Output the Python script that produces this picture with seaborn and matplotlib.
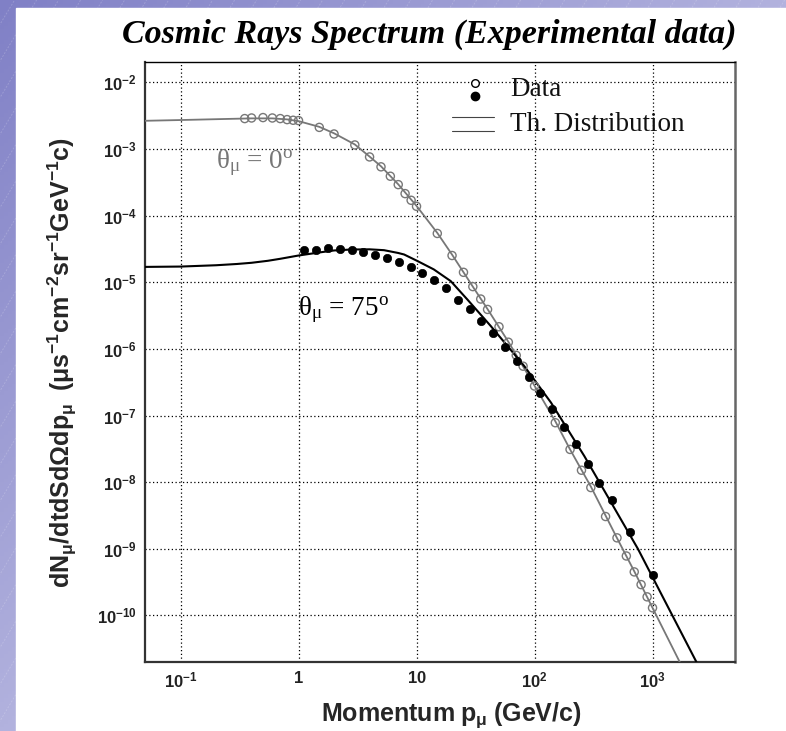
import numpy as np
import pandas as pd
import matplotlib
matplotlib.use("Agg")
import matplotlib.pyplot as plt
import matplotlib.ticker as mticker
import seaborn as sns

# --- values ---
# open circles, theta = 0 deg
p_0deg = [0.35, 0.40, 0.50, 0.60, 0.70, 0.80, 0.90, 1.0, 1.5, 2.0, 3.0, 4.0, 5.0, 6.0,
          7.0, 8.0, 9.0, 10.0, 15.0, 20.0, 25.0, 30.0, 35.0, 40.0, 50.0, 60.0, 70.0, 80.0,
          100.0, 150.0, 200.0, 250.0, 300.0, 400.0, 500.0, 600.0, 700.0, 800.0, 900.0, 1000.0]
flux_0deg = [2.86e-3, 2.92e-3, 2.96e-3, 2.92e-3, 2.86e-3, 2.76e-3, 2.70e-3, 2.67e-3, 2.11e-3,
             1.68e-3, 1.15e-3, 7.6e-4, 5.4e-4, 3.9e-4, 2.92e-4, 2.14e-4, 1.70e-4, 1.38e-4,
             5.4e-5, 2.52e-5, 1.41e-5, 8.6e-6, 5.6e-6, 3.91e-6, 2.15e-6, 1.26e-6, 8.0e-7,
             5.5e-7, 2.77e-7, 7.8e-8, 3.1e-8, 1.51e-8, 8.3e-9, 3.05e-9, 1.46e-9, 7.8e-10,
             4.5e-10, 2.9e-10, 1.9e-10, 1.3e-10]

# filled circles, theta = 75 deg
p_75deg = [1.12, 1.41, 1.78, 2.24, 2.82, 3.55, 4.47, 5.62, 7.08, 8.91, 11.2, 14.1, 17.8,
           22.4, 28.2, 35.5, 44.7, 56.2, 70.8, 89.1, 112.0, 141.0, 178.0, 224.0, 282.0,
           355.0, 455.0, 640.0, 1000.0]
flux_75deg = [3.0e-5, 3.1e-5, 3.29e-5, 3.18e-5, 3.1e-5, 2.82e-5, 2.55e-5, 2.33e-5, 2.0e-5,
              1.71e-5, 1.37e-5, 1.09e-5, 8.07e-6, 5.4e-6, 4.0e-6, 2.65e-6, 1.71e-6, 1.06e-6,
              6.5e-7, 3.78e-7, 2.2e-7, 1.24e-7, 6.7e-8, 3.7e-8, 1.9e-8, 9.8e-9, 5.4e-9,
              1.79e-9, 4.0e-10]

# theoretical curves
th_p_0deg = [0.05, 0.1, 0.2, 0.4, 0.6, 0.8, 1.0, 1.5, 2.0, 3.0, 4.0, 5.0, 7.0, 10.0, 15.0,
             20.0, 30.0, 40.0, 60.0, 100.0, 150.0, 200.0, 300.0, 500.0, 700.0, 1000.0, 1700.0]
th_flux_0deg = [2.65e-3, 2.72e-3, 2.80e-3, 2.88e-3, 2.88e-3, 2.78e-3, 2.62e-3, 2.15e-3,
                1.72e-3, 1.17e-3, 7.7e-4, 5.5e-4, 2.95e-4, 1.40e-4, 5.5e-5, 2.6e-5, 8.6e-6,
                3.95e-6, 1.28e-6, 2.8e-7, 8.2e-8, 3.1e-8, 8.6e-9, 1.45e-9, 4.6e-10, 1.3e-10,
                2e-11]

th_p_75deg = [0.05, 0.1, 0.2, 0.3, 0.4, 0.55, 0.7, 1.0, 1.5, 2.0, 2.8, 4.0, 5.3, 7.0, 7.85,
              10.2, 14.0, 19.5, 27.0, 42.6, 82.0, 138.0, 264.0, 754.0, 2355.0]
th_flux_75deg = [1.70e-5, 1.72e-5, 1.80e-5, 1.88e-5, 1.96e-5, 2.1e-5, 2.25e-5, 2.52e-5,
                 2.8e-5, 3.0e-5, 3.1e-5, 3.12e-5, 3.03e-5, 2.75e-5, 2.61e-5, 2.08e-5,
                 1.56e-5, 1.04e-5, 5.5e-6, 2.2e-6, 5.5e-7, 1.56e-7, 2.47e-8, 9.9e-10, 2e-11]

x_ticks = [0.1, 1, 10, 100, 1000]
y_ticks = [1e-2, 1e-3, 1e-4, 1e-5, 1e-6, 1e-7, 1e-8, 1e-9, 1e-10]

GRAY = "#777777"

sns.set_theme(style="white")
plt.rcParams["font.family"] = ["Liberation Sans", "DejaVu Sans"]
plt.rcParams["mathtext.fontset"] = "custom"
plt.rcParams["mathtext.rm"] = "Liberation Serif"
plt.rcParams["mathtext.it"] = "Liberation Serif:italic"
plt.rcParams["mathtext.bf"] = "Liberation Sans:bold"
plt.rcParams["mathtext.sf"] = "Liberation Sans"

W, H = 786, 731
fig = plt.figure(figsize=(W / 100, H / 100), dpi=100)

# ---------------------------------------------------------
# slide background: purple strip with faint diagonal stripes
# ---------------------------------------------------------
bg = fig.add_axes([0, 0, 1, 1], zorder=-10)
bg.set_xlim(0, W)
bg.set_ylim(H, 0)
bg.axis("off")
xx, yy = np.meshgrid(np.linspace(0, 1, 200), np.linspace(0, 1, 200))
t = np.clip(xx + yy, 0, 1)[..., None]
c0 = np.array([128, 128, 198]) / 255
c1 = np.array([178, 178, 222]) / 255
bg.imshow(c0 * (1 - t) + c1 * t, extent=(0, W, H, 0), aspect="auto", zorder=0)
for c in range(-600, W, 22):
    bg.plot([c, c + H * 0.6], [H, 0], color="white", alpha=0.18, lw=0.7,
            ls=(0, (2, 1.5)), zorder=1)
bg.add_patch(plt.Rectangle((16, 8), W - 16, H - 8, color="white", zorder=2))

# ---------------------------------------------------------
# main axes
# ---------------------------------------------------------
ax = fig.add_axes([145 / W, 1 - 662 / H, 590 / W, 599.7 / H])
ax.set(xscale="log", yscale="log")

df_th0 = pd.DataFrame({"p": th_p_0deg, "flux": th_flux_0deg})
df_th75 = pd.DataFrame({"p": th_p_75deg, "flux": th_flux_75deg})
df_0 = pd.DataFrame({"p": p_0deg, "flux": flux_0deg})
df_75 = pd.DataFrame({"p": p_75deg, "flux": flux_75deg})

sns.lineplot(data=df_th0, x="p", y="flux", ax=ax, color=GRAY, linewidth=1.3,
             estimator=None, sort=False, zorder=3)
sns.lineplot(data=df_th75, x="p", y="flux", ax=ax, color="black", linewidth=1.5,
             estimator=None, sort=False, zorder=3)
sns.scatterplot(data=df_0, x="p", y="flux", ax=ax, s=34, facecolors="none",
                edgecolor=GRAY, linewidth=1.0, zorder=4)
sns.scatterplot(data=df_75, x="p", y="flux", ax=ax, s=36, color="black",
                edgecolor="black", linewidth=0.5, zorder=4)

ax.set_xlim(0.05, 5000)
ax.set_ylim(2e-11, 2e-2)


def fmt_x(v, pos):
    if np.isclose(v, 1):
        return r"$\mathbf{1}$"
    if np.isclose(v, 10):
        return r"$\mathbf{10}$"
    return r"$\mathbf{10^{%d}}$" % int(round(np.log10(v)))


def fmt_y(v, pos):
    return r"$\mathbf{10^{%d}}$" % int(round(np.log10(v)))


ax.xaxis.set_major_locator(mticker.FixedLocator(x_ticks))
ax.yaxis.set_major_locator(mticker.FixedLocator(y_ticks))
ax.xaxis.set_major_formatter(mticker.FuncFormatter(fmt_x))
ax.yaxis.set_major_formatter(mticker.FuncFormatter(fmt_y))
ax.xaxis.set_minor_locator(mticker.LogLocator(base=10, subs=range(2, 10), numticks=100))
ax.yaxis.set_minor_locator(mticker.LogLocator(base=10, subs=range(2, 10), numticks=100))
ax.xaxis.set_minor_formatter(mticker.NullFormatter())
ax.yaxis.set_minor_formatter(mticker.NullFormatter())

ax.tick_params(which="both", direction="in", top=False, right=False, colors="#222222",
               labelsize=12)
ax.tick_params(which="major", length=8, width=1.0, pad=6)
ax.tick_params(which="minor", length=4.5, width=0.8)

ax.grid(True, which="major", linestyle=(0, (1, 2)), color="black", linewidth=0.9)
ax.set_axisbelow(True)

for side, col, lw in [("left", "#333333", 1.6), ("bottom", "#333333", 1.6),
                      ("right", "#666666", 1.8), ("top", "black", 1.0)]:
    ax.spines[side].set_color(col)
    ax.spines[side].set_linewidth(lw)

ax.set_xlabel(r"$\mathbf{Momentum\ p_{\mu}\ (GeV/c)}$", fontsize=18)
ax.set_ylabel(r"$\mathbf{dN_{\mu}/dtdSd\Omega dp_{\mu}\ \ (\mu s^{-1}cm^{-2}sr^{-1}GeV^{-1}c)}$",
              fontsize=18)
ax.xaxis.set_label_coords(0.52, -0.064)
ax.yaxis.set_label_coords(-0.112, 0.5)

# curve labels
ax.text(0.120, 0.832, r"$\mathrm{\theta_{\mu}}$ = 0$^{\mathrm{o}}$", transform=ax.transAxes,
        family="Liberation Serif", fontsize=19.5, color=GRAY, va="center", ha="left")
ax.text(0.259, 0.587, r"$\mathrm{\theta_{\mu}}$ = 75$^{\mathrm{o}}$", transform=ax.transAxes,
        family="Liberation Serif", fontsize=19.5, color="black", va="center", ha="left")

# legend drawn by hand (ROOT style, no frame)
ax.plot([0.559], [0.965], "o", transform=ax.transAxes, ms=5.5, mfc="white", mec="black",
        mew=1.0, clip_on=False, zorder=6)
ax.plot([0.559], [0.943], "o", transform=ax.transAxes, ms=6, mfc="black", mec="black",
        clip_on=False, zorder=6)
ax.plot([0.520, 0.592], [0.908, 0.908], transform=ax.transAxes, color="#444444", lw=0.8,
        zorder=6)
ax.plot([0.520, 0.592], [0.886, 0.886], transform=ax.transAxes, color="#444444", lw=0.8,
        zorder=6)
ax.text(0.619, 0.954, "Data", transform=ax.transAxes, family="Liberation Serif",
        fontsize=19.5, va="center", ha="left", color="#111111")
ax.text(0.619, 0.897, "Th. Distribution", transform=ax.transAxes, family="Liberation Serif",
        fontsize=19.5, va="center", ha="left", color="#111111")

fig.text(429 / W, 1 - 34 / H, "Cosmic Rays Spectrum (Experimental data)",
         family="Liberation Serif", weight="bold", style="italic", fontsize=24.5,
         ha="center", va="center", color="black")

fig.savefig("out.png", dpi=100)
